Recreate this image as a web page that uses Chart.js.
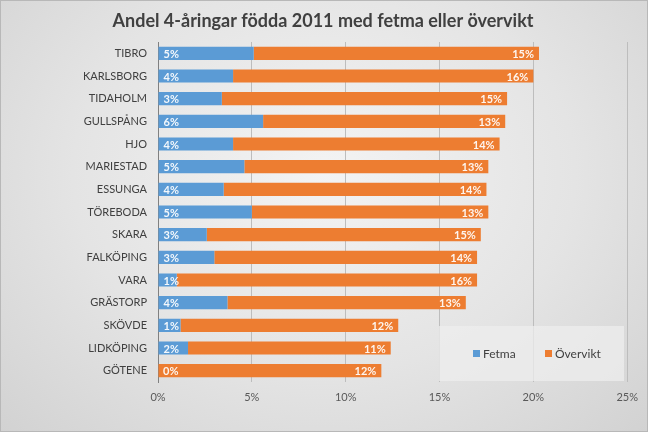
<!DOCTYPE html>
<html><head><meta charset="utf-8">
<script src="https://cdn.jsdelivr.net/npm/chart.js@4.4.1/dist/chart.umd.min.js"></script>
<style>
html,body{margin:0;padding:0;}
#wrap{width:646px;height:430px;border:1px solid #b8b8b8;background:radial-gradient(ellipse at 50% 40%, #f3f3f3 0%, #e4e4e4 55%, #d2d2d2 100%);}
canvas{display:block;}
</style></head><body>
<div id="wrap"><canvas id="c" width="646" height="430"></canvas></div>
<script>
const categories = ["TIBRO","KARLSBORG","TIDAHOLM","GULLSPÅNG","HJO","MARIESTAD","ESSUNGA","TÖREBODA","SKARA","FALKÖPING","VARA","GRÄSTORP","SKÖVDE","LIDKÖPING","GÖTENE"];
const fetma =    [5.1, 4.0, 3.4, 5.6, 4.0, 4.6, 3.5, 5.0, 2.6, 3.0, 1.0, 3.7, 1.2, 1.6, 0];
const overvikt = [15.2,16.0,15.2,12.9,14.2,13.0,14.0,12.6,14.6,14.0,16.0,12.7,11.6,10.8,11.9];
const xTicks = [0,5,10,15,20,25];
const titleText = "Andel 4-åringar födda 2011 med fetma eller övervikt";
const seriesNames = ["Fetma","Övervikt"];
const colors = ["#5B9BD5","#ED7D31"];
const FONT = "Lato, 'Open Sans', sans-serif";

const titlePlugin = {
  id:'titleP',
  afterDraw(chart){
    const ctx=chart.ctx; ctx.save();
    ctx.font="bold 18px "+FONT; ctx.fillStyle="#404040"; ctx.textAlign="center"; ctx.textBaseline="middle";
    ctx.fillText(titleText, 322, 20);
    ctx.restore();
  }
};
const legendPlugin = {
  id:'legendP',
  beforeDatasetsDraw(chart){
    const ctx=chart.ctx; ctx.save();
    ctx.fillStyle="rgba(238,238,238,0.75)";
    ctx.fillRect(438,325,185,55);
    ctx.restore();
  },
  afterDraw(chart){
    const ctx=chart.ctx; ctx.save();
    ctx.font="12px "+FONT; ctx.textBaseline="middle"; ctx.textAlign="left";
    const xs=[472,544];
    chart.data.datasets.forEach((ds,i)=>{
      ctx.fillStyle=ds.backgroundColor; ctx.fillRect(xs[i],349,7,7);
      ctx.fillStyle="#404040"; ctx.fillText(ds.label, xs[i]+10, 353);
    });
    ctx.restore();
  }
};
const labelPlugin = {
  id:'labelsP',
  afterDatasetsDraw(chart){
    const ctx=chart.ctx; ctx.save();
    ctx.font="bold 11px "+FONT; ctx.fillStyle="rgba(255,255,255,0.92)"; ctx.textBaseline="middle";
    chart.data.datasets.forEach((ds,di)=>{
      chart.getDatasetMeta(di).data.forEach((bar,i)=>{
        const txt=Math.round(ds.data[i])+"%";
        if(di===0){ ctx.textAlign="left"; ctx.fillText(txt, bar.base+5, bar.y+1); }
        else { ctx.textAlign="right"; ctx.fillText(txt, bar.x-5, bar.y+1); }
      });
    });
    ctx.restore();
  }
};

new Chart(document.getElementById('c'),{
  type:'bar',
  data:{labels:categories,datasets:[
    {label:seriesNames[0],data:fetma,backgroundColor:colors[0],barPercentage:0.58,categoryPercentage:1},
    {label:seriesNames[1],data:overvikt,backgroundColor:colors[1],barPercentage:0.58,categoryPercentage:1}
  ]},
  options:{
    indexAxis:'y',responsive:false,animation:false,
    layout:{padding:{top:41,right:19,left:0,bottom:0}},
    plugins:{legend:{display:false},title:{display:false},tooltip:{enabled:false}},
    scales:{
      x:{stacked:true,min:0,max:25,
        afterBuildTicks(s){s.ticks=xTicks.map(v=>({value:v}));},
        afterFit(s){s.height=49;},
        grid:{color:"#bdbdbd",drawTicks:false,lineWidth:1},
        border:{display:false},
        ticks:{padding:9,color:"#595959",font:{size:11,family:FONT},callback:v=>v+"%"}},
      y:{stacked:true,
        afterFit(s){s.width=157;},
        grid:{display:false,drawTicks:false},
        border:{display:true,color:"#808080",width:1},
        ticks:{padding:11,color:"#404040",font:{size:11,family:FONT}}}
    }
  },
  plugins:[titlePlugin,legendPlugin,labelPlugin]
});
</script>
</body></html>
